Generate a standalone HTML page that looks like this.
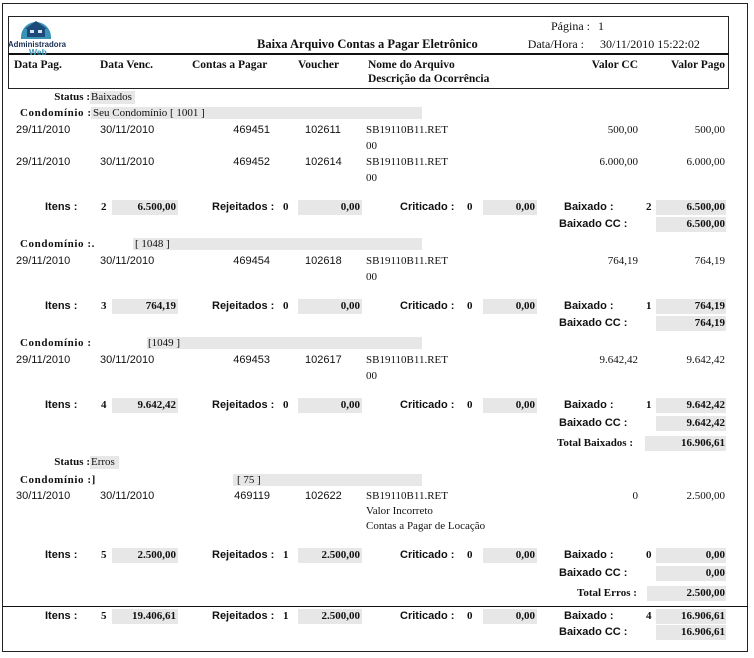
<!DOCTYPE html>
<html><head><meta charset="utf-8">
<style>
html,body{margin:0;padding:0;background:#fff;}
body{width:754px;height:658px;position:relative;overflow:hidden;color:#111;}
.t{position:absolute;white-space:nowrap;line-height:14px;height:14px;font-family:"Liberation Serif",serif;font-size:11px;}
.s{font-family:"Liberation Sans",sans-serif;}
.b{font-weight:bold;}
.g{position:absolute;background:#e7e7e7;}
.cl{letter-spacing:0.6px;}
.h{font-size:11.5px;}
</style></head><body>
<!-- outer frame -->
<div style="position:absolute;left:2px;top:3px;width:744px;height:647px;border:1px solid #222;"></div>
<!-- header box -->
<div style="position:absolute;left:8px;top:16px;width:719px;height:71px;border:1px solid #222;"></div>
<div style="position:absolute;left:8px;top:53px;width:721px;height:2px;background:#111;"></div>
<!-- logo -->
<svg style="position:absolute;left:8px;top:15px" width="60" height="40" viewBox="0 0 60 40">
<path d="M13 22 A15 15 0 0 1 43 22 Z" fill="#3a94b8"/>
<polygon points="17,14 28,6 39,14" fill="#1d4a78"/>
<rect x="19" y="13" width="18" height="10" fill="#1d4a78"/>
<rect x="22" y="15" width="4" height="3" fill="#d5e8f1"/>
<rect x="30" y="15" width="4" height="3" fill="#d5e8f1"/>
<rect x="13" y="22" width="30" height="2" fill="#3a94b8"/>
<text x="0" y="32" font-family="Liberation Sans, sans-serif" font-size="8.5" font-weight="bold" fill="#1a2f55" textLength="58" lengthAdjust="spacingAndGlyphs">Administradora</text>
<text x="21" y="40" font-family="Liberation Sans, sans-serif" font-size="8.5" font-weight="bold" fill="#3a94b8">Web</text>
</svg>
<div class="t b" style="left:257px;top:37px;font-size:12.5px;">Baixa Arquivo Contas a Pagar Eletrônico</div>
<div class="t" style="right:164px;top:19px;font-size:12px;">Página :</div>
<div class="t" style="left:598px;top:19px;font-size:12px;">1</div>
<div class="t" style="right:170px;top:37px;font-size:12px;">Data/Hora :</div>
<div class="t" style="left:600px;top:37px;font-size:12px;">30/11/2010 15:22:02</div>
<!-- column headers -->
<div class="t b h" style="left:14px;top:58px;">Data Pag.</div>
<div class="t b h" style="left:100px;top:58px;">Data Venc.</div>
<div class="t b h" style="left:192px;top:58px;">Contas a Pagar</div>
<div class="t b h" style="left:298px;top:58px;">Voucher</div>
<div class="t b h" style="left:368px;top:58px;">Nome do Arquivo</div>
<div class="t b h" style="left:368px;top:72px;">Descrição da Ocorrência</div>
<div class="t b h" style="right:116px;top:58px;">Valor CC</div>
<div class="t b h" style="right:29px;top:58px;">Valor Pago</div>

<!-- Status Baixados -->
<div class="g" style="left:90px;top:91px;width:45px;height:13px;"></div>
<div class="t b" style="right:664px;top:90px;">Status :</div>
<div class="t" style="left:91px;top:90px;">Baixados</div>

<!-- Condominio 1001 -->
<div class="g" style="left:91px;top:107px;width:331px;height:12px;"></div>
<div class="t b cl" style="left:20px;top:106px;">Condomínio :</div>
<div class="t" style="left:93px;top:106px;">Seu Condomínio [ 1001 ]</div>
<!-- rows -->
<div class="t s" style="left:16px;top:123px;">29/11/2010</div>
<div class="t s" style="left:100px;top:123px;">30/11/2010</div>
<div class="t s" style="right:484px;top:123px;">469451</div>
<div class="t s" style="left:305px;top:123px;">102611</div>
<div class="t" style="left:366px;top:123px;">SB19110B11.RET</div>
<div class="t" style="left:366px;top:139px;">00</div>
<div class="t" style="right:116px;top:123px;">500,00</div>
<div class="t" style="right:29px;top:123px;">500,00</div>

<div class="t s" style="left:16px;top:155px;">29/11/2010</div>
<div class="t s" style="left:100px;top:155px;">30/11/2010</div>
<div class="t s" style="right:484px;top:155px;">469452</div>
<div class="t s" style="left:305px;top:155px;">102614</div>
<div class="t" style="left:366px;top:155px;">SB19110B11.RET</div>
<div class="t" style="left:366px;top:171px;">00</div>
<div class="t" style="right:116px;top:155px;">6.000,00</div>
<div class="t" style="right:29px;top:155px;">6.000,00</div>

<!-- summary 1 (y=207) -->
<div class="g" style="left:112px;top:200px;width:66px;height:15px;"></div>
<div class="g" style="left:298px;top:200px;width:64px;height:15px;"></div>
<div class="g" style="left:483px;top:200px;width:54px;height:15px;"></div>
<div class="g" style="left:656px;top:200px;width:70px;height:15px;"></div>
<div class="t s b" style="left:45px;top:200px;">Itens :</div>
<div class="t b" style="left:101px;top:200px;">2</div>
<div class="t b" style="right:578px;top:200px;">6.500,00</div>
<div class="t s b" style="left:212px;top:200px;">Rejeitados :</div>
<div class="t b" style="left:283px;top:200px;">0</div>
<div class="t b" style="right:394px;top:200px;">0,00</div>
<div class="t s b" style="left:400px;top:200px;">Criticado :</div>
<div class="t b" style="left:467px;top:200px;">0</div>
<div class="t b" style="right:219px;top:200px;">0,00</div>
<div class="t s b" style="left:564px;top:200px;">Baixado :</div>
<div class="t b" style="left:646px;top:200px;">2</div>
<div class="t b" style="right:29px;top:200px;">6.500,00</div>
<div class="g" style="left:656px;top:217px;width:70px;height:15px;"></div>
<div class="t s b" style="left:559px;top:217px;">Baixado CC :</div>
<div class="t b" style="right:29px;top:217px;">6.500,00</div>

<!-- Condominio 1048 (y=244) -->
<div class="g" style="left:133px;top:238px;width:289px;height:12px;"></div>
<div class="t b cl" style="left:20px;top:237px;">Condomínio :.</div>
<div class="t" style="left:135px;top:237px;">[ 1048 ]</div>
<div class="t s" style="left:16px;top:254px;">29/11/2010</div>
<div class="t s" style="left:100px;top:254px;">30/11/2010</div>
<div class="t s" style="right:484px;top:254px;">469454</div>
<div class="t s" style="left:305px;top:254px;">102618</div>
<div class="t" style="left:366px;top:254px;">SB19110B11.RET</div>
<div class="t" style="left:366px;top:270px;">00</div>
<div class="t" style="right:116px;top:254px;">764,19</div>
<div class="t" style="right:29px;top:254px;">764,19</div>

<!-- summary 2 (y=306) -->
<div class="g" style="left:112px;top:299px;width:66px;height:15px;"></div>
<div class="g" style="left:298px;top:299px;width:64px;height:15px;"></div>
<div class="g" style="left:483px;top:299px;width:54px;height:15px;"></div>
<div class="g" style="left:656px;top:299px;width:70px;height:15px;"></div>
<div class="t s b" style="left:45px;top:299px;">Itens :</div>
<div class="t b" style="left:101px;top:299px;">3</div>
<div class="t b" style="right:578px;top:299px;">764,19</div>
<div class="t s b" style="left:212px;top:299px;">Rejeitados :</div>
<div class="t b" style="left:283px;top:299px;">0</div>
<div class="t b" style="right:394px;top:299px;">0,00</div>
<div class="t s b" style="left:400px;top:299px;">Criticado :</div>
<div class="t b" style="left:467px;top:299px;">0</div>
<div class="t b" style="right:219px;top:299px;">0,00</div>
<div class="t s b" style="left:564px;top:299px;">Baixado :</div>
<div class="t b" style="left:646px;top:299px;">1</div>
<div class="t b" style="right:29px;top:299px;">764,19</div>
<div class="g" style="left:656px;top:316px;width:70px;height:15px;"></div>
<div class="t s b" style="left:559px;top:316px;">Baixado CC :</div>
<div class="t b" style="right:29px;top:316px;">764,19</div>

<!-- Condominio 1049 (y=343) -->
<div class="g" style="left:147px;top:337px;width:275px;height:12px;"></div>
<div class="t b cl" style="left:20px;top:336px;">Condomínio :</div>
<div class="t" style="left:148px;top:336px;">[1049 ]</div>
<div class="t s" style="left:16px;top:353px;">29/11/2010</div>
<div class="t s" style="left:100px;top:353px;">30/11/2010</div>
<div class="t s" style="right:484px;top:353px;">469453</div>
<div class="t s" style="left:305px;top:353px;">102617</div>
<div class="t" style="left:366px;top:353px;">SB19110B11.RET</div>
<div class="t" style="left:366px;top:369px;">00</div>
<div class="t" style="right:116px;top:353px;">9.642,42</div>
<div class="t" style="right:29px;top:353px;">9.642,42</div>

<!-- summary 3 (y=405) -->
<div class="g" style="left:112px;top:398px;width:66px;height:15px;"></div>
<div class="g" style="left:298px;top:398px;width:64px;height:15px;"></div>
<div class="g" style="left:483px;top:398px;width:54px;height:15px;"></div>
<div class="g" style="left:656px;top:398px;width:70px;height:15px;"></div>
<div class="t s b" style="left:45px;top:398px;">Itens :</div>
<div class="t b" style="left:101px;top:398px;">4</div>
<div class="t b" style="right:578px;top:398px;">9.642,42</div>
<div class="t s b" style="left:212px;top:398px;">Rejeitados :</div>
<div class="t b" style="left:283px;top:398px;">0</div>
<div class="t b" style="right:394px;top:398px;">0,00</div>
<div class="t s b" style="left:400px;top:398px;">Criticado :</div>
<div class="t b" style="left:467px;top:398px;">0</div>
<div class="t b" style="right:219px;top:398px;">0,00</div>
<div class="t s b" style="left:564px;top:398px;">Baixado :</div>
<div class="t b" style="left:646px;top:398px;">1</div>
<div class="t b" style="right:29px;top:398px;">9.642,42</div>
<div class="g" style="left:656px;top:416px;width:70px;height:15px;"></div>
<div class="t s b" style="left:559px;top:416px;">Baixado CC :</div>
<div class="t b" style="right:29px;top:416px;">9.642,42</div>

<!-- Total Baixados (y=443) -->
<div class="g" style="left:645px;top:436px;width:81px;height:15px;"></div>
<div class="t b" style="left:557px;top:436px;">Total Baixados :</div>
<div class="t b" style="right:29px;top:436px;">16.906,61</div>

<!-- Status Erros (y=462) -->
<div class="g" style="left:90px;top:456px;width:29px;height:13px;"></div>
<div class="t b" style="right:664px;top:455px;">Status :</div>
<div class="t" style="left:91px;top:455px;">Erros</div>

<!-- Condominio 75 (y=480) -->
<div class="g" style="left:233px;top:474px;width:189px;height:12px;"></div>
<div class="t b cl" style="left:20px;top:473px;">Condomínio :]</div>
<div class="t" style="left:237px;top:473px;">[ 75 ]</div>
<div class="t s" style="left:16px;top:489px;">30/11/2010</div>
<div class="t s" style="left:100px;top:489px;">30/11/2010</div>
<div class="t s" style="right:484px;top:489px;">469119</div>
<div class="t s" style="left:305px;top:489px;">102622</div>
<div class="t" style="left:366px;top:489px;">SB19110B11.RET</div>
<div class="t" style="left:366px;top:504px;">Valor Incorreto</div>
<div class="t" style="left:366px;top:519px;">Contas a Pagar de Locação</div>
<div class="t" style="right:116px;top:489px;">0</div>
<div class="t" style="right:29px;top:489px;">2.500,00</div>

<!-- summary 4 (y=555) -->
<div class="g" style="left:112px;top:548px;width:66px;height:15px;"></div>
<div class="g" style="left:298px;top:548px;width:64px;height:15px;"></div>
<div class="g" style="left:483px;top:548px;width:54px;height:15px;"></div>
<div class="g" style="left:656px;top:548px;width:70px;height:15px;"></div>
<div class="t s b" style="left:45px;top:548px;">Itens :</div>
<div class="t b" style="left:101px;top:548px;">5</div>
<div class="t b" style="right:578px;top:548px;">2.500,00</div>
<div class="t s b" style="left:212px;top:548px;">Rejeitados :</div>
<div class="t b" style="left:283px;top:548px;">1</div>
<div class="t b" style="right:394px;top:548px;">2.500,00</div>
<div class="t s b" style="left:400px;top:548px;">Criticado :</div>
<div class="t b" style="left:467px;top:548px;">0</div>
<div class="t b" style="right:219px;top:548px;">0,00</div>
<div class="t s b" style="left:564px;top:548px;">Baixado :</div>
<div class="t b" style="left:646px;top:548px;">0</div>
<div class="t b" style="right:29px;top:548px;">0,00</div>
<div class="g" style="left:656px;top:566px;width:70px;height:15px;"></div>
<div class="t s b" style="left:559px;top:566px;">Baixado CC :</div>
<div class="t b" style="right:29px;top:566px;">0,00</div>
<div class="g" style="left:647px;top:586px;width:79px;height:15px;"></div>
<div class="t b" style="left:577px;top:586px;">Total Erros :</div>
<div class="t b" style="right:29px;top:586px;">2.500,00</div>

<!-- separator line -->
<div style="position:absolute;left:2px;top:606px;width:746px;height:1px;background:#111;"></div>

<!-- grand totals (y=616) -->
<div class="g" style="left:112px;top:609px;width:66px;height:15px;"></div>
<div class="g" style="left:298px;top:609px;width:64px;height:15px;"></div>
<div class="g" style="left:483px;top:609px;width:54px;height:15px;"></div>
<div class="g" style="left:656px;top:609px;width:70px;height:15px;"></div>
<div class="t s b" style="left:45px;top:609px;">Itens :</div>
<div class="t b" style="left:101px;top:609px;">5</div>
<div class="t b" style="right:578px;top:609px;">19.406,61</div>
<div class="t s b" style="left:212px;top:609px;">Rejeitados :</div>
<div class="t b" style="left:283px;top:609px;">1</div>
<div class="t b" style="right:394px;top:609px;">2.500,00</div>
<div class="t s b" style="left:400px;top:609px;">Criticado :</div>
<div class="t b" style="left:467px;top:609px;">0</div>
<div class="t b" style="right:219px;top:609px;">0,00</div>
<div class="t s b" style="left:564px;top:609px;">Baixado :</div>
<div class="t b" style="left:646px;top:609px;">4</div>
<div class="t b" style="right:29px;top:609px;">16.906,61</div>
<div class="g" style="left:656px;top:625px;width:70px;height:15px;"></div>
<div class="t s b" style="left:559px;top:625px;">Baixado CC :</div>
<div class="t b" style="right:29px;top:625px;">16.906,61</div>
</body></html>
